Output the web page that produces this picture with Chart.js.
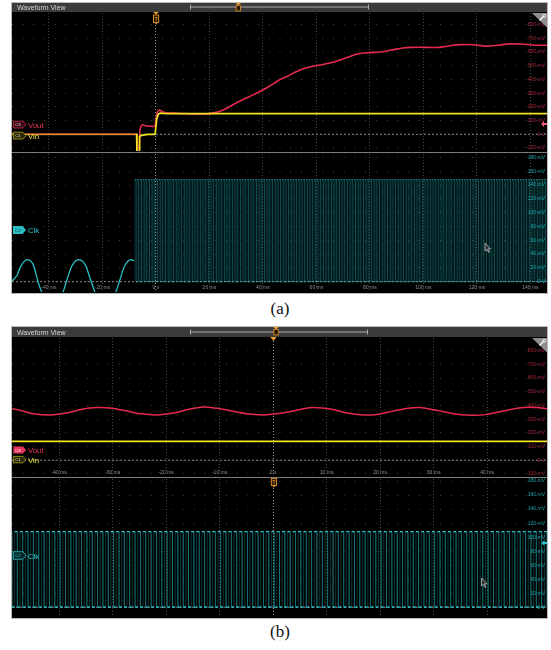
<!DOCTYPE html>
<html lang="en">
<head>
<meta charset="utf-8">
<title>Waveform View</title>
<script src="https://cdn.jsdelivr.net/npm/chart.js@4.4.1/dist/chart.umd.min.js"></script>
<style>
  html, body { margin:0; padding:0; background:#fff; }
  body { position:relative; width:551px; height:650px; overflow:hidden; font-family:"Liberation Sans", Arial, sans-serif; }
  .panel { position:absolute; left:11px; width:535px; background:#000; border:1px solid #b9b9b9; }
  .bar { position:absolute; left:12px; width:535px; height:9px; background:#3b3b3b; }
  canvas { position:absolute; left:12px; background:#000; }
  .cap { position:absolute; left:0; width:560px; text-align:center; font-family:"Liberation Serif", "Times New Roman", serif; font-size:17px; color:#111; }
  svg.overlay { position:absolute; left:0; top:0; pointer-events:none; }
</style>
</head>
<body>
<div class="panel" style="top:2px;height:290px"></div>
<div class="bar" style="top:3px"></div>
<canvas id="aUp" width="535" height="140" style="top:12px"></canvas>
<canvas id="aLo" width="535" height="140" style="top:153px"></canvas>

<div class="panel" style="top:326px;height:291px"></div>
<div class="bar" style="top:327px;height:10px"></div>
<canvas id="bUp" width="535" height="140" style="top:337px"></canvas>
<canvas id="bLo" width="535" height="140" style="top:478px"></canvas>

<div class="cap" style="top:299px">(a)</div>
<div class="cap" style="top:622px">(b)</div>

<svg class="overlay" width="551" height="650" font-family="Liberation Sans, Arial, sans-serif">
  <!-- (a) title bar, horizontal position slider -->
  <text x="17" y="10.2" font-size="7" fill="#d6d6d6">Waveform View</text>
  <path d="M190.5 7H368.5M190.5 4.5V9.5M368.5 4.5V9.5" stroke="#a9a9a9" stroke-width="1" fill="none"/>
  <path d="M235.6 3H241L238.3 5.2Z" fill="#f0a030"/>
  <rect x="236.2" y="5.5" width="4.4" height="5.5" fill="#2b1c06" stroke="#e8952a" stroke-width="0.8"/>
  <!-- (a) trigger position -->
  <path d="M153 12H159L156 14.5Z" fill="#f0a030"/>
  <rect x="153.5" y="15" width="5.2" height="7.5" fill="#2b1c06" stroke="#e8952a" stroke-width="0.9"/>
  <text x="156.1" y="21.2" font-size="5.5" fill="#f0a030" text-anchor="middle">T</text>
  <path d="M154.6 22.5L156.1 24.5L157.6 22.5Z" fill="#e8952a"/>
  <!-- (a) scale corner -->
  <path d="M532 13H547V27.5Z" fill="#8e8e8e"/>
  <path d="M539.5 20.5L543.6 16.4" stroke="#fff" stroke-width="1.3"/>
  <circle cx="544.2" cy="15.8" r="1.4" fill="none" stroke="#fff" stroke-width="0.9"/>
  <path d="M12 152.5H547" stroke="#7c7c7c"/>
  <path d="M541 124L544 121V123H547V125H544V127Z" fill="#ee5a7c"/>
  <!-- (a) channel badges -->
  <path d="M13.4 121.2H22.8L26.2 124.6L22.8 128H13.4Z" fill="#3b0b17" stroke="#cf2f50" stroke-width="0.8"/>
  <text x="18" y="126.2" font-size="4.3" fill="#f0d0d6" text-anchor="middle">C3</text>
  <text x="28" y="127.6" font-size="7.8" fill="#e8365a">Vout</text>
  <path d="M13.4 132.2H22.8L26.2 135.6L22.8 139H13.4Z" fill="#2a2806" stroke="#b4ac22" stroke-width="0.8"/>
  <text x="18" y="137.2" font-size="4.3" fill="#eee8a0" text-anchor="middle">C1</text>
  <text x="28" y="138.6" font-size="7.8" fill="#eee23a">Vin</text>
  <path d="M13 226H22.6L26 230L22.6 234H13Z" fill="#2bbfc3"/>
  <text x="17.8" y="231.6" font-size="4.3" fill="#063a3c" text-anchor="middle">C2</text>
  <text x="28" y="233.2" font-size="7.8" fill="#2fc6ca">Clk</text>
  <path d="M485 243V251L487 249.3L488.6 252.5L489.6 252L488.1 248.8H490.6Z" fill="#303030" stroke="#cfcfcf" stroke-width="0.7"/>

  <!-- (b) title bar, horizontal position slider -->
  <text x="17" y="335" font-size="7" fill="#d6d6d6">Waveform View</text>
  <path d="M190.5 332H367.5M190.5 329.5V334.5M367.5 329.5V334.5" stroke="#a9a9a9" stroke-width="1" fill="none"/>
  <path d="M273.2 327H279L276.1 329.2Z" fill="#f0a030"/>
  <rect x="273.9" y="329.5" width="4.4" height="5.5" fill="#2b1c06" stroke="#e8952a" stroke-width="0.8"/>
  <path d="M270.4 337H276.6L273.5 341Z" fill="#f0a030"/>
  <path d="M532 338H547V352.5Z" fill="#8e8e8e"/>
  <path d="M539.5 345.5L543.6 341.4" stroke="#fff" stroke-width="1.3"/>
  <circle cx="544.2" cy="340.8" r="1.4" fill="none" stroke="#fff" stroke-width="0.9"/>
  <path d="M12 477.5H547" stroke="#7c7c7c"/>
  <rect x="271.3" y="478.4" width="5.2" height="7.2" fill="#2b1c06" stroke="#e8952a" stroke-width="0.9"/>
  <text x="273.9" y="484.4" font-size="5.5" fill="#f0a030" text-anchor="middle">T</text>
  <path d="M272.4 485.6L273.9 487.8L275.4 485.6Z" fill="#e8952a"/>
  <!-- (b) channel badges -->
  <path d="M13.4 446.5H22.8L26.2 450L22.8 453.5H13.4Z" fill="#e8365a"/>
  <text x="18" y="451.6" font-size="4.3" fill="#ffffff" text-anchor="middle">C3</text>
  <text x="28" y="453.4" font-size="7.8" fill="#e8365a">Vout</text>
  <path d="M13.4 456.4H22.8L26.2 459.6L22.8 462.8H13.4Z" fill="#2a2806" stroke="#b4ac22" stroke-width="0.8"/>
  <text x="18" y="461.2" font-size="4.3" fill="#eee8a0" text-anchor="middle">C1</text>
  <text x="28" y="462.6" font-size="7.8" fill="#eee23a">Vin</text>
  <path d="M13.4 551.7H22.8L26.2 555.5L22.8 559.3H13.4Z" fill="#06282a" stroke="#2bbfc3" stroke-width="0.8"/>
  <text x="18" y="557.1" font-size="4.3" fill="#2fc6ca" text-anchor="middle">C2</text>
  <text x="28" y="558.6" font-size="7.8" fill="#2fc6ca">Clk</text>
  <path d="M541.5 543L544.5 540V542H547V544H544.5V546Z" fill="#2fc6ca"/>
  <path d="M481.5 578V586L483.5 584.3L485.1 587.5L486.1 587L484.6 583.8H487.1Z" fill="#303030" stroke="#cfcfcf" stroke-width="0.7"/>
</svg>

<script>
Chart.defaults.font.family = '"Liberation Sans", Arial, sans-serif';

// ---------- Capture (a): power-up, 20 ms/div ----------
const aWindow = [-53.8, 146.2];                 // ms shown across the screen
const aTimeTicks = [-40, -20, 0, 20, 40, 60, 80, 100, 120, 140];
const aVoltRange = [-122, 885];                 // mV, C3/C1 pane
const aClkRange = [-15, 185];                   // mV, C2 pane
const voltTicks = [-100, 0, 100, 200, 300, 400, 500, 600, 700, 800];
const clkTicks = [0, 20, 40, 60, 80, 100, 120, 140, 160, 180];

const aVoutTime = [-53.8, -7.2, -7.1, -6.4, -6.0, -5.4, -4.9, -4.2, -2.5, -0.4, 0.1, 0.6, 1.3, 2.5, 4.0, 8.0, 12.0, 16.0, 19.0, 22.0, 24.0, 26.5, 28.8, 32.0, 35.1, 38.5, 41.5, 44.0, 46.4, 49.0, 52.0, 55.0, 58.0, 61.3, 64.5, 67.5, 71.4, 74.0, 76.3, 80.0, 83.7, 86.0, 89.0, 92.4, 95.5, 98.7, 102.0, 105.0, 108.0, 111.0, 114.0, 117.4, 120.5, 123.7, 128.0, 132.3, 135.5, 138.7, 142.0, 146.2];
const aVoutMv   = [0, 0, -130, -130, 20, 62, 70, 64, 60, 57, 110, 165, 176, 165, 157, 154, 150, 146, 148, 158, 168, 190, 216, 248, 276, 308, 340, 370, 400, 422, 452, 478, 493, 505, 518, 533, 560, 578, 590, 596, 600, 606, 618, 630, 634, 635, 634, 633, 640, 650, 654, 655, 650, 643, 650, 660, 660, 655, 650, 650];

const aVinTime = [-53.8, -7.2, -7.1, -6.3, -6.1, -5.0, -3.0, -0.3, 0.3, 0.9, 1.6, 4.0, 146.2];
const aVinMv   = [0, 0, -130, -130, -14, -6, -1, 0, 110, 148, 154, 150, 150];

// C2 before the clock starts toggling
const aClkIdleTime = [-53.8, -51.8, -50.8, -48.3, -45.9, -44.0, -42.7, -38.9, -34.7, -33.4, -31.5, -29.0, -26.5, -24.7, -22.8, -18.9, -15.0, -13.6, -11.8, -9.3, -8.2];
const aClkIdleMv   = [1, 10, 20, 32, 25, -1, -15, -40, -15, 1, 22, 32, 25, 6, -15, -40, -15, 1, 22, 32, 30];
const aClkStart = -7.9;         // ms, first rising edge
const aClkLevels = [0, 148];    // mV, low / high

// ---------- Capture (b): steady state, 10 ms/div ----------
const bWindow = [-48.8, 51.2];
const bTimeTicks = [-40, -30, -20, -10, 0, 10, 20, 30, 40];
const bVoltRange = [-115, 892];
const bClkRange = [-14, 183];

const bVoutTime = [-48.8, -47.3, -44.8, -41.7, -38.6, -35.5, -33.0, -30.5, -27.3, -24.9, -21.7, -18.6, -15.5, -13.0, -10.5, -7.4, -4.9, -1.8, -0.6, 2.6, 5.7, 7.5, 10.7, 13.8, 16.9, 19.4, 22.5, 25.6, 27.5, 30.6, 33.7, 36.8, 39.3, 43.0, 46.8, 49.3, 51.2];
const bVoutMv   = [376, 364, 340, 331, 345, 374, 384, 381, 359, 340, 331, 345, 374, 388, 379, 357, 340, 331, 334, 350, 376, 384, 374, 345, 331, 334, 359, 381, 384, 364, 340, 329, 331, 359, 384, 384, 376];

const bVinTime = [-48.8, 51.2];
const bVinMv   = [138, 138];

const bClkStart = -49.3;        // ms, a rising edge just left of the screen
const bClkLevels = [0, 108];    // mV, low / high
const clkPeriod = 1.0;          // ms

// ---------- helpers ----------
const toPoints = (ts, vs) => ts.map((t, i) => ({ x: t, y: vs[i] }));

// full square wave: rise, high half period, fall, low half period
function clockEdges(start, end, levels) {
  const [lo, hi] = levels, pts = [];
  for (let k = 0; start + k * clkPeriod < end; k++) {
    const rise = start + k * clkPeriod, fall = rise + clkPeriod / 2;
    pts.push({ x: rise, y: lo }, { x: rise, y: hi }, { x: fall, y: hi }, { x: fall, y: lo });
  }
  pts.push({ x: end, y: lo });
  return pts;
}
// only the flat high and low stretches of the same wave (drawn brighter)
function clockPlateaus(start, end, levels) {
  const [lo, hi] = levels, pts = [];
  for (let k = 0; start + k * clkPeriod < end; k++) {
    const rise = start + k * clkPeriod, fall = rise + clkPeriod / 2, next = rise + clkPeriod;
    pts.push({ x: rise, y: hi }, { x: fall, y: hi }, { x: fall, y: null },
             { x: fall, y: lo }, { x: next, y: lo }, { x: next, y: null });
  }
  return pts;
}

const msLabel = v => (v === 0 ? '0 s' : v + ' ms');
const mvLabel = v => (v === 0 ? '0 V' : v + ' mV');

const zeroLine = win => ({ label: '0 V', data: toPoints(win, [0, 0]), borderColor: '#858585', borderWidth: 1, borderDash: [2, 2] });

function pane(id, cfg) {
  return new Chart(document.getElementById(id), {
    type: 'line',
    data: { datasets: cfg.datasets },
    options: {
      responsive: false, animation: false, devicePixelRatio: 1, events: [],
      layout: { padding: 0 },
      plugins: { legend: { display: false }, tooltip: { enabled: false } },
      elements: { point: { radius: 0 }, line: { borderCapStyle: 'butt', borderJoinStyle: 'round' } },
      scales: {
        x: {
          type: 'linear', position: 'bottom', min: cfg.xRange[0], max: cfg.xRange[1],
          afterFit: s => { s.height = 0; },
          afterBuildTicks: s => { s.ticks = cfg.xTicks.map(v => ({ value: v })); },
          grid: { drawTicks: false, lineWidth: 1, color: c => (c.tick && c.tick.value === 0 ? '#9c9c9c' : '#464646') },
          border: { display: false, dash: [1, 2] },
          ticks: { display: cfg.xLabels, mirror: true, padding: cfg.xPad, autoSkip: false, maxRotation: 0,
                   color: '#8e8e8e', font: { size: 5 }, callback: v => msLabel(v) }
        },
        y: {
          type: 'linear', position: 'right', min: cfg.yRange[0], max: cfg.yRange[1],
          afterFit: s => { s.width = 0; },
          afterBuildTicks: s => { s.ticks = cfg.yTicks.map(v => ({ value: v })); },
          grid: { drawTicks: false, lineWidth: 1, color: '#444444' },
          border: { display: false, dash: [1, 9.7] },
          ticks: { mirror: true, padding: -2, autoSkip: false, color: cfg.yColor, font: { size: 5 }, callback: v => mvLabel(v) }
        }
      }
    }
  });
}

// (a) C3 Vout / C1 Vin
pane('aUp', {
  xRange: aWindow, xTicks: aTimeTicks, xLabels: false, xPad: 0,
  yRange: aVoltRange, yTicks: voltTicks, yColor: '#a8263f',
  datasets: [
    { label: 'Vin', data: toPoints(aVinTime, aVinMv), borderColor: '#f4e420', borderWidth: 1.7,
      segment: { borderColor: s => (s.p1.parsed.x <= -7.2 ? 'rgba(244,228,32,0.5)' : undefined) } },
    { label: 'Vout', data: toPoints(aVoutTime, aVoutMv), borderColor: '#e52a4e', borderWidth: 1.6, cubicInterpolationMode: 'monotone' },
    zeroLine(aWindow)
  ]
});

// (a) C2 Clk
pane('aLo', {
  xRange: aWindow, xTicks: aTimeTicks, xLabels: true, xPad: 1,
  yRange: aClkRange, yTicks: clkTicks, yColor: '#1fa6a9',
  datasets: [
    { label: 'Clk', data: toPoints(aClkIdleTime, aClkIdleMv), borderColor: '#27c3c7', borderWidth: 1.3, cubicInterpolationMode: 'monotone' },
    { label: 'Clk levels', data: clockPlateaus(aClkStart, aWindow[1], aClkLevels), borderColor: 'rgba(45,200,205,0.55)', borderWidth: 1.2, spanGaps: false },
    { label: 'Clk edges', data: clockEdges(aClkStart, aWindow[1], aClkLevels), borderColor: 'rgba(30,165,170,0.2)', borderWidth: 1 },
    zeroLine(aWindow)
  ]
});

// (b) C3 Vout / C1 Vin
pane('bUp', {
  xRange: bWindow, xTicks: bTimeTicks, xLabels: true, xPad: 0,
  yRange: bVoltRange, yTicks: voltTicks, yColor: '#a8263f',
  datasets: [
    { label: 'Vin', data: toPoints(bVinTime, bVinMv), borderColor: '#f4e420', borderWidth: 1.8 },
    { label: 'Vout', data: toPoints(bVoutTime, bVoutMv), borderColor: '#e52a4e', borderWidth: 1.5, tension: 0.4 },
    zeroLine(bWindow)
  ]
});

// (b) C2 Clk
pane('bLo', {
  xRange: bWindow, xTicks: bTimeTicks, xLabels: false, xPad: 0,
  yRange: bClkRange, yTicks: clkTicks, yColor: '#1fa6a9',
  datasets: [
    { label: 'Clk levels', data: clockPlateaus(bClkStart, bWindow[1], bClkLevels), borderColor: '#30cdd1', borderWidth: 1.3, spanGaps: false },
    { label: 'Clk edges', data: clockEdges(bClkStart, bWindow[1], bClkLevels), borderColor: 'rgba(30,165,170,0.32)', borderWidth: 1 },
    zeroLine(bWindow)
  ]
});
</script>
</body>
</html>
